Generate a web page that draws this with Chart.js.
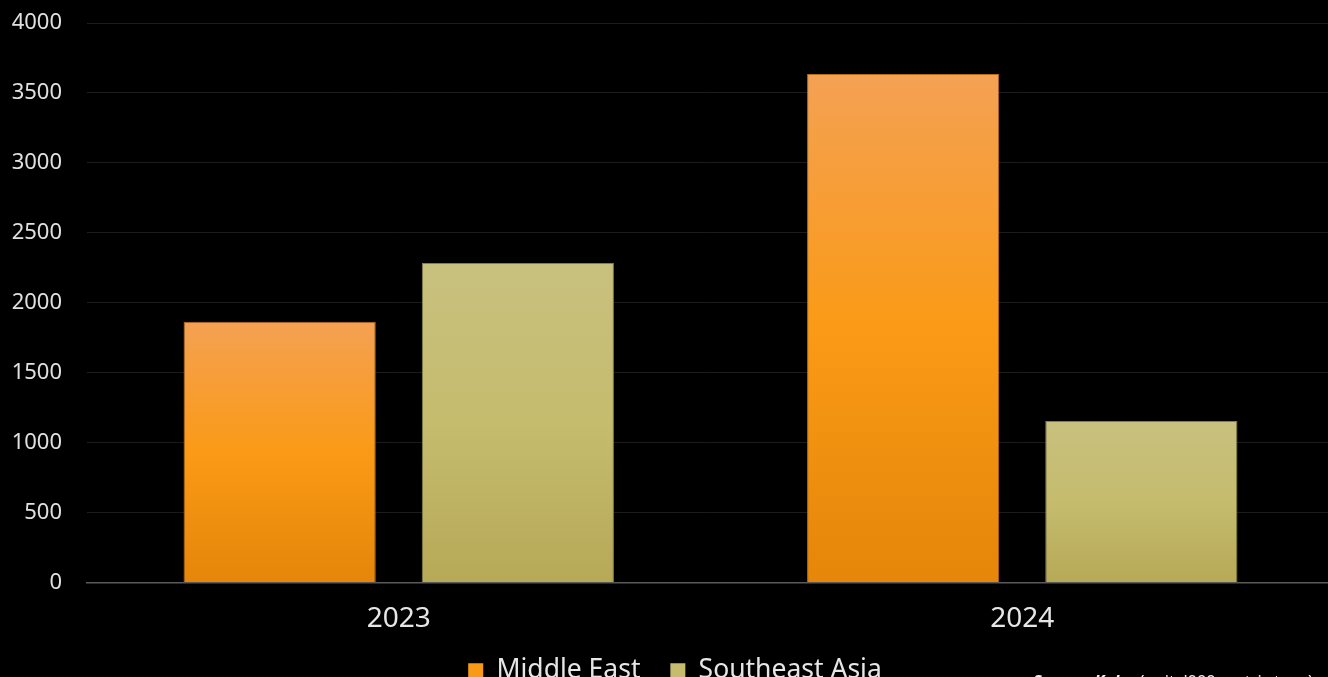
<!DOCTYPE html>
<html>
<head>
<meta charset="utf-8">
<script src="https://cdn.jsdelivr.net/npm/chart.js@4"></script>
<style>
	html, body { margin: 0; padding: 0; background: #000; overflow: hidden; }
	#wrap { position: absolute; left: 0; top: 0; width: 1334px; height: 694px; }
	#note { position: absolute; left: 1033px; top: 669px; color: #eee; font: 16.5px "Noto Sans", sans-serif; white-space: nowrap; }
	#note b { font-style: italic; }
</style>
</head>
<body>
<div id="wrap"><canvas id="chart"></canvas></div>
<div id="note"><b>Source: Kpler</b> (unit: '000 metric tons)</div>
<script>
const years = ['2023', '2024'];
const middleEast = [1865, 3635];
const southeastAsia = [2285, 1155];
const yTicks = [0, 500, 1000, 1500, 2000, 2500, 3000, 3500, 4000];

function barGradient(stops) {
	return (ctx) => {
		const chart = ctx.chart;
		if (!chart.chartArea || ctx.raw == null) return stops[1];
		const y = chart.scales.y;
		const top = y.getPixelForValue(ctx.raw);
		const base = y.getPixelForValue(0);
		const g = chart.ctx.createLinearGradient(0, top, 0, base);
		g.addColorStop(0, stops[0]);
		g.addColorStop(0.5, stops[1]);
		g.addColorStop(1, stops[2]);
		return g;
	};
}

// nudge the legend row a little to the right, like the original
const legendShift = {
	id: 'legendShift',
	afterLayout(chart) {
		chart.legend.left += 8;
		chart.legend.right += 8;
	}
};

new Chart(document.getElementById('chart'), {
	type: 'bar',
	data: {
		labels: years,
		datasets: [
			{ label: 'Middle East', data: middleEast, backgroundColor: barGradient(['#F4A153', '#FA9A16', '#E6860A']), borderColor: '#B86A1C', borderWidth: 1, barPercentage: 0.807, categoryPercentage: 0.764 },
			{ label: 'Southeast Asia', data: southeastAsia, backgroundColor: barGradient(['#C8C07E', '#C5BC6E', '#B6A957']), borderColor: '#858042', borderWidth: 1, barPercentage: 0.807, categoryPercentage: 0.764 }
		]
	},
	plugins: [legendShift],
	options: {
		responsive: true,
		maintainAspectRatio: false,
		animation: false,
		layout: { padding: { top: 23, left: 0, right: 0, bottom: 0 } },
		plugins: {
			tooltip: { enabled: false },
			legend: {
				position: 'bottom',
				labels: {
					color: '#e6e6e6',
					font: { family: 'Noto Sans', size: 26.5 },
					boxWidth: 15, boxHeight: 15, padding: 23,
					generateLabels: (chart) => chart.data.datasets.map((ds, i) => ({
						text: i === 0 ? ds.label + '\u00a0' : ds.label,
						fillStyle: i === 0 ? '#F99A17' : '#C5BC6E',
						strokeStyle: i === 0 ? '#F99A17' : '#C5BC6E',
						lineWidth: 0, datasetIndex: i, fontColor: '#e6e6e6'
					}))
				}
			}
		},
		scales: {
			x: {
				grid: { display: false, drawTicks: false },
				border: { display: true, color: '#5a5a5a', width: 1.5 },
				ticks: { color: '#e6e6e6', font: { family: 'Noto Sans', size: 28 }, padding: 20 },
				afterFit: (s) => { s.height = 52; }
			},
			y: {
				min: 0, max: 4000,
				afterBuildTicks: (s) => { s.ticks = yTicks.map(v => ({ value: v })); },
				grid: { color: (c) => c.tick && c.tick.value === 0 ? '#5a5a5a' : '#1c1c1c', drawTicks: true, tickLength: 25, tickColor: 'rgba(0,0,0,0)' },
				border: { display: false },
				ticks: { color: '#e0e0e0', font: { family: 'Noto Sans', size: 22 }, padding: 0, callback: (v) => String(v) },
				afterFit: (s) => { s.width = 87; }
			}
		}
	}
});
</script>
</body>
</html>
